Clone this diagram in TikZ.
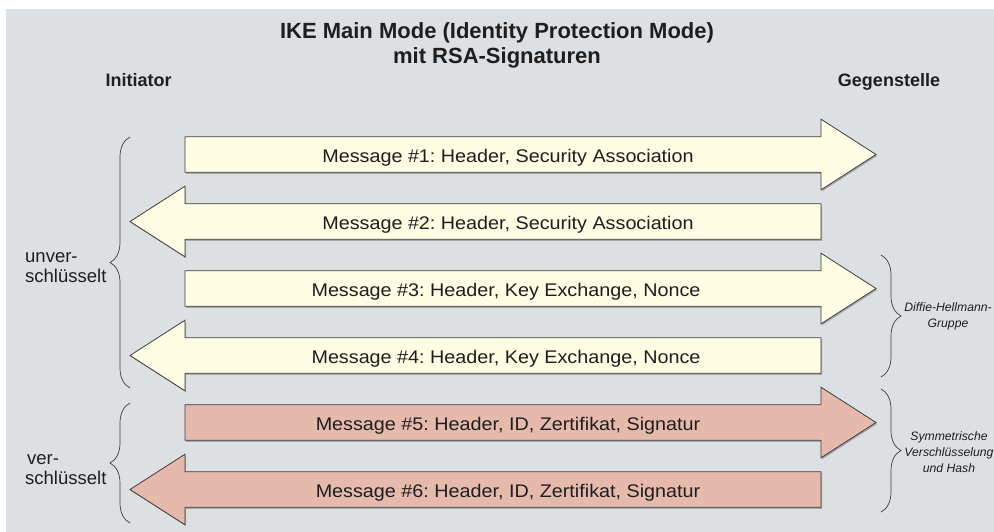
\documentclass[tikz,border=0pt]{standalone}
\usepackage{fontspec}
\setmainfont{Liberation Sans}
\newfontfamily\msgfont{Liberation Sans}[FakeStretch=1.08]
\usetikzlibrary{calc,shadows,decorations.pathreplacing}
\definecolor{BackClr}{RGB}{221,224,227}
\definecolor{PlainClr}{RGB}{255,253,228}
\definecolor{CryptClr}{RGB}{230,185,173}
\definecolor{EdgeClr}{RGB}{62,62,62}
\definecolor{TextClr}{RGB}{30,30,30}
\frenchspacing

% arrow to the right: #1 = middle (y), #2 = fill
\newcommand\MsgArrowR[2]{%
  \draw[msgbox,fill=#2] (185,#1-17.8) -- (821,#1-17.8) -- (821,#1-35.3) -- (876,#1)
    -- (821,#1+35.3) -- (821,#1+17.8) -- (185,#1+17.8) -- cycle;}
% arrow to the left
\newcommand\MsgArrowL[2]{%
  \draw[msgbox,fill=#2] (821,#1-17.8) -- (185,#1-17.8) -- (185,#1-35.3) -- (130,#1)
    -- (185,#1+35.3) -- (185,#1+17.8) -- (821,#1+17.8) -- cycle;}

\begin{document}
\begin{tikzpicture}[x=1pt,y=-1pt,
  msgbox/.style={draw=EdgeClr,line width=0.8pt,line join=miter,
    drop shadow={shadow xshift=1.2pt,shadow yshift=-1.5pt,fill=black,opacity=0.25}},
  curly/.style={draw=EdgeClr,line width=0.7pt,decorate,decoration={brace,amplitude=20pt}},
  msgtext/.style={anchor=base,text=TextClr,font=\msgfont\fontsize{18.3}{22}\selectfont},
  sidetext/.style={text=TextClr,inner sep=0pt,align=left,font=\fontsize{18.5}{20}\selectfont},
  keytext/.style={text=TextClr,inner sep=0pt,align=center,font=\itshape\fontsize{12.2}{16}\selectfont}]

\useasboundingbox (0,0) rectangle (994,532);
\fill[BackClr] (6,9) rectangle (994,532);

% headings
\node[text=TextClr,inner sep=0pt,align=center,font=\bfseries\fontsize{22}{25}\selectfont]
  (title) at (497,45) {IKE Main Mode (Identity Protection Mode)\\mit RSA-Signaturen};
\node[anchor=base,text=TextClr,font=\bfseries\fontsize{18}{20}\selectfont] (init) at (138.5,86.7) {Initiator};
\node[anchor=base,text=TextClr,font=\bfseries\fontsize{18}{20}\selectfont] (peer) at (889,86.7) {Gegenstelle};

% messages
\MsgArrowR{154.5}{PlainClr}
\MsgArrowL{221.5}{PlainClr}
\MsgArrowR{288.5}{PlainClr}
\MsgArrowL{355.5}{PlainClr}
\MsgArrowR{422.5}{CryptClr}
\MsgArrowL{489.5}{CryptClr}

\node[msgtext] (m1) at (508,162.7) {Message \#1: Header, Security Association};
\node[msgtext] (m2) at (508,229.7) {Message \#2: Header, Security Association};
\node[msgtext] (m3) at (506,296.7) {Message \#3: Header, Key Exchange, Nonce};
\node[msgtext] (m4) at (506,363.7) {Message \#4: Header, Key Exchange, Nonce};
\node[msgtext] (m5) at (508,430.7) {Message \#5: Header, ID, Zertifikat, Signatur};
\node[msgtext] (m6) at (508,497.7) {Message \#6: Header, ID, Zertifikat, Signatur};

% braces
\draw[curly] (130,388) -- (130,137);
\draw[curly] (130,523) -- (130,403);
\draw[curly] (881,255) -- (881,377);
\draw[curly] (881,389) -- (881,512);

\node[sidetext,anchor=west] (plain) at (25,268) {unver-\\schlüsselt};
\node[sidetext,anchor=west] (crypt) at (25,470) {\hspace{2pt}ver-\\schlüsselt};
\node[keytext] (dh) at (948,316) {Diffie-Hellmann-\\Gruppe};
\node[keytext] (sym) at (949,452) {Symmetrische\\Verschlüsselung\\und Hash};

\end{tikzpicture}
\end{document}
